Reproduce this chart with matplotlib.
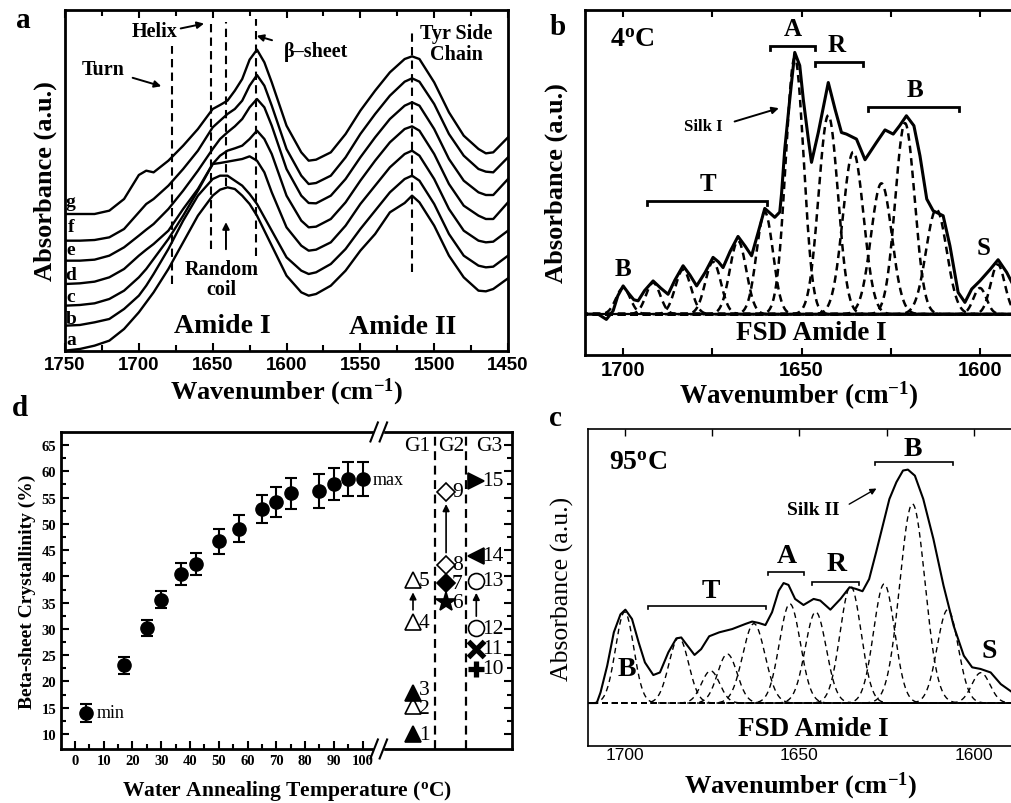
import numpy as np
import matplotlib.pyplot as plt
from matplotlib.patches import Rectangle

plt.rcParams['font.family'] = ['Liberation Serif', 'DejaVu Serif']
plt.rcParams['mathtext.fontset'] = 'custom'
plt.rcParams['mathtext.rm'] = 'Liberation Serif'
plt.rcParams['mathtext.bf'] = 'Liberation Serif:bold'
plt.rcParams['mathtext.it'] = 'Liberation Serif:italic'

# ---------------- panel a : FTIR spectra (offset traces, a.u.) ----------------
WN_A = [1750, 1740, 1730, 1720, 1710, 1700, 1695, 1690, 1680, 1670, 1660, 1650, 1645,
        1640, 1635, 1630, 1625, 1620, 1615, 1610, 1600, 1590, 1585, 1580, 1570, 1560,
        1550, 1540, 1530, 1520, 1515, 1510, 1500, 1490, 1480, 1470, 1465, 1460, 1450]
TRACE_g = [411, 411, 411, 421, 456, 528, 541, 536, 571, 616, 666, 726, 738, 751, 781, 816,
           874, 904, 866, 806, 676, 596, 571, 574, 596, 651, 721, 781, 836, 876, 884, 876,
           806, 716, 646, 606, 593, 596, 641]
TRACE_f = [331, 331, 333, 341, 366, 416, 441, 456, 496, 546, 601, 671, 691, 711, 726, 751,
           796, 828, 796, 736, 606, 526, 501, 504, 526, 581, 651, 711, 766, 808, 818, 808,
           741, 651, 586, 546, 538, 536, 581]
TRACE_e = [271, 271, 274, 286, 311, 346, 364, 381, 426, 481, 541, 606, 636, 656, 674, 696,
           731, 756, 731, 676, 546, 466, 444, 443, 466, 516, 581, 641, 696, 736, 746, 736,
           666, 576, 511, 476, 468, 468, 516]
TRACE_d = [201, 203, 208, 221, 246, 286, 304, 321, 361, 426, 486, 561, 586, 601, 608, 616,
           636, 661, 636, 591, 466, 391, 371, 373, 396, 446, 511, 571, 626, 666, 674, 661,
           591, 501, 436, 406, 396, 396, 446]
TRACE_c = [136, 138, 143, 156, 181, 221, 246, 276, 336, 406, 481, 561, 564, 568, 572, 576,
           584, 571, 536, 476, 371, 316, 301, 304, 326, 376, 441, 496, 551, 591, 601, 586,
           516, 426, 361, 331, 326, 328, 361]
TRACE_b = [76, 78, 86, 96, 126, 166, 196, 231, 306, 391, 466, 516, 526, 526, 511, 496,
           471, 441, 401, 361, 281, 241, 231, 236, 261, 306, 366, 421, 476, 516, 526, 511,
           441, 351, 286, 256, 251, 253, 286]
TRACE_a = [1, 6, 16, 31, 66, 116, 146, 176, 246, 326, 406, 466, 484, 491, 486, 466,
           441, 406, 361, 316, 226, 176, 166, 171, 196, 241, 301, 351, 416, 444, 466, 446,
           376, 286, 221, 181, 179, 186, 218]
TRACE_NAMES = ['a', 'b', 'c', 'd', 'e', 'f', 'g']
TRACE_LABEL_Y = [27, 90, 156, 222, 297, 366, 441]
BAND_LINES = {'Turn': 1677.5, 'Helix': 1651, 'Random coil': 1641, 'beta': 1621, 'Tyr': 1515}

# ---------------- panel b : FSD amide I at 4 C ----------------
SOLID_B_WN = [1711, 1707, 1704.7, 1702.8, 1701.5, 1700, 1698.5, 1697, 1695.8, 1694, 1691.6,
              1689.5, 1687.4, 1685.5, 1683.2, 1681.3, 1679.4, 1677, 1674.8, 1673.3, 1672,
              1670, 1667.8, 1665.8, 1664, 1662, 1660.3, 1657.5, 1656.1, 1655.6, 1654.7,
              1653.3, 1651.9, 1650.5, 1649.5, 1648.1, 1647.2, 1645.3, 1642.5, 1640.6,
              1638.8, 1637.4, 1634.6, 1632.2, 1629, 1626.6, 1624.3, 1622.5, 1620.6, 1618.5,
              1616.8, 1614.9, 1613.1, 1610.3, 1608.4, 1606.1, 1604.2, 1602.3, 1600, 1597.2,
              1594.9, 1592.5, 1591]
SOLID_B_H = [0.0, 0.0, -0.02, 0.013, 0.07, 0.108, 0.08, 0.055, 0.051, 0.09, 0.127,
             0.10, 0.076, 0.13, 0.185, 0.15, 0.108, 0.16, 0.217, 0.20, 0.178,
             0.24, 0.297, 0.26, 0.223, 0.32, 0.404, 0.37, 0.39, 0.46, 0.63,
             0.82, 1.0, 0.95, 0.82, 0.67, 0.58, 0.694, 0.885, 0.783,
             0.694, 0.688, 0.669, 0.59, 0.656, 0.704, 0.688, 0.72, 0.758, 0.72,
             0.605, 0.44, 0.395, 0.376, 0.261, 0.083, 0.045, 0.096, 0.127, 0.17,
             0.208, 0.16, 0.12]
BANDS_B_CENTER = [1700, 1691.6, 1683.2, 1674.8, 1667.8, 1660.3, 1651.9, 1642.5, 1635.5,
                  1627.6, 1621, 1612.2, 1600, 1595]
BANDS_B_HEIGHT = [0.10, 0.12, 0.17, 0.20, 0.28, 0.39, 0.98, 0.76, 0.62, 0.50, 0.73, 0.40,
                  0.10, 0.19]
BANDS_B_SIGMA = [2.0, 2.0, 2.2, 2.2, 2.3, 2.3, 2.5, 2.7, 2.9, 2.9, 2.7, 2.9, 1.8, 2.0]

# ---------------- panel c : FSD amide I at 95 C ----------------
SOLID_C_WN = [1710.5, 1708, 1706.9, 1705, 1703.1, 1701.2, 1699.8, 1697.9, 1696, 1694.2,
              1691.8, 1689.9, 1687.5, 1685.2, 1683.8, 1682.4, 1680, 1678.1, 1675.8, 1672.9,
              1669.2, 1665.4, 1663.5, 1661.6, 1659.7, 1657.8, 1655.9, 1654.5, 1653.1,
              1651.2, 1648.8, 1645.9, 1644, 1641.1, 1638.2, 1635.6, 1633.8, 1631.9, 1630,
              1628, 1626.1, 1624.2, 1622.2, 1620.3, 1618.9, 1616.9, 1614.5, 1611.6, 1608.7,
              1605.8, 1602.9, 1600.5, 1598.1, 1595.2, 1592.3, 1589]
SOLID_C_H = [0.0, 0.0, 0.046, 0.16, 0.303, 0.38, 0.40, 0.36, 0.26, 0.174,
             0.12, 0.131, 0.217, 0.277, 0.281, 0.253, 0.206, 0.231, 0.286, 0.303,
             0.317, 0.339, 0.349, 0.343, 0.334, 0.389, 0.481, 0.514, 0.506,
             0.446, 0.42, 0.446, 0.439, 0.40, 0.446, 0.496, 0.489, 0.479, 0.531,
             0.646, 0.76, 0.874, 0.946, 0.996, 1.0, 0.974, 0.874, 0.703, 0.503,
             0.331, 0.203, 0.153, 0.146, 0.131, 0.081, 0.046]
BANDS_C_CENTER = [1700, 1684.5, 1675.4, 1670.6, 1663, 1652.7, 1645.3, 1635.3, 1625.7,
                  1617.6, 1607.5, 1598]
BANDS_C_HEIGHT = [0.39, 0.28, 0.138, 0.21, 0.34, 0.425, 0.39, 0.50, 0.51, 0.853, 0.40, 0.13]
BANDS_C_SIGMA = [2.6, 2.8, 2.6, 2.8, 3.2, 3.0, 3.0, 3.0, 3.0, 3.6, 3.0, 2.6]

# ---------------- panel d : crystallinity ----------------
TEMPS = [4, 17, 25, 30, 37, 42, 50, 57, 65, 70, 75, 85, 90, 95, 100]
CRYST = [14.0, 23.1, 30.2, 35.6, 40.5, 42.4, 46.7, 49.1, 52.8, 54.2, 55.8, 56.3, 57.6, 58.5, 58.5]
CRYST_ERR = [1.8, 1.6, 1.5, 1.7, 2.1, 2.1, 2.4, 2.5, 2.7, 2.8, 2.9, 3.2, 3.0, 3.2, 3.2]
SAMPLE_NO = list(range(1, 16))
SAMPLE_GROUP = ['G1', 'G1', 'G1', 'G1', 'G1', 'G2', 'G2', 'G2', 'G2',
                'G3', 'G3', 'G3', 'G3', 'G3', 'G3']
SAMPLE_CRYST = [10.0, 15.4, 17.9, 31.3, 39.3, 35.1, 38.7, 42.2, 56.1,
                22.4, 26.2, 30.1, 39.2, 43.9, 58.2]
SAMPLE_ARROWS = [(4, 5), (8, 9), (12, 13)]

# styles / positions
GROUP_X = {'G1': 117.5, 'G2': 129.0, 'G3': 139.5}
MARKER_STYLE = {1: ('^', True), 2: ('^', False), 3: ('^', True), 4: ('^', False),
                5: ('^', False), 6: ('*', True), 7: ('D', True), 8: ('D', False),
                9: ('D', False), 10: ('+', True), 11: ('x', True), 12: ('o', False),
                13: ('o', False), 14: ('<', True), 15: ('>', True)}
LABEL_NUDGE = {2: -0.5, 3: 0.5}

fig = plt.figure(figsize=(10.11, 8.04), dpi=100)
SANSB = dict(family=['Liberation Sans', 'DejaVu Sans'], weight='bold')


def bracket(ax, x1, x2, y, tick, lw):
    ax.plot([x1, x1, x2, x2], [y - tick, y, y, y - tick], color='k', lw=lw,
            solid_joinstyle='miter')


def band(x, c, h, s):
    return h * np.exp(-0.5 * ((x - c) / s) ** 2)


# ======== a ========
ax = fig.add_axes([0.0643, 0.5622, 0.4382, 0.4241])
traces = [TRACE_a, TRACE_b, TRACE_c, TRACE_d, TRACE_e, TRACE_f, TRACE_g]
for tr in traces:
    ax.plot(WN_A, tr, color='k', lw=1.7)
for name, ly in zip(TRACE_NAMES, TRACE_LABEL_Y):
    ax.text(1746, ly + 8, name, fontsize=14, fontweight='bold', ha='center', va='center')
dash = dict(color='k', lw=1.5, ls=(0, (4, 2.5)))
ax.plot([BAND_LINES['Turn']] * 2, [201, 916], **dash)
ax.plot([BAND_LINES['Helix']] * 2, [306, 987], **dash)
ax.plot([BAND_LINES['Random coil']] * 2, [495, 987], **dash)
ax.plot([BAND_LINES['beta']] * 2, [285, 996], **dash)
ax.plot([BAND_LINES['Tyr']] * 2, [237, 957], **dash)
arr = dict(arrowstyle='-|>', color='k', lw=1.4, mutation_scale=10)
ax.annotate('', xy=(1641, 395), xytext=(1641, 297), arrowprops=arr)
ax.text(1724.3, 846, 'Turn', fontsize=14.5, fontweight='bold', ha='center', va='center')
ax.annotate('', xy=(1683, 792), xytext=(1706, 822), arrowprops=arr)
ax.text(1689, 960, 'Helix', fontsize=14.5, fontweight='bold', ha='center', va='center')
ax.annotate('', xy=(1654, 984), xytext=(1673.5, 966), arrowprops=arr)
ax.text(1580, 900, 'β–sheet', fontsize=14.5, fontweight='bold', ha='center', va='center')
ax.annotate('', xy=(1622, 948), xytext=(1608, 930), arrowprops=arr)
ax.text(1484.8, 922, 'Tyr Side\nChain', fontsize=14.5, fontweight='bold', ha='center',
        va='center', linespacing=1.05)
ax.text(1643.8, 216, 'Random\ncoil', fontsize=14.5, fontweight='bold', ha='center',
        va='center', linespacing=1.05)
ax.text(1643.8, 75, 'Amide I', fontsize=20, fontweight='bold', ha='center', va='center')
ax.text(1521.3, 72, 'Amide II', fontsize=20, fontweight='bold', ha='center', va='center')
ax.set_xlim(1750, 1450)
ax.set_ylim(0, 1023)
ax.set_xticks(range(1750, 1449, -50))
ax.set_xticks(range(1725, 1450, -50), minor=True)
ax.set_yticks([])
ax.tick_params(axis='x', which='both', direction='in', top=True, width=1.5)
ax.tick_params(axis='x', which='major', length=6)
ax.tick_params(axis='x', which='minor', length=4)
for lab in ax.get_xticklabels():
    lab.set(**SANSB, fontsize=13.5)
ax.set_xlabel(r'Wavenumber (cm$^{\mathbf{-1}}$)', fontsize=19, fontweight='bold', labelpad=2)
ax.set_ylabel('Absorbance (a.u.)', fontsize=19, fontweight='bold', labelpad=6)
for s in ax.spines.values():
    s.set_linewidth(2)

# ======== b ========
bx = fig.add_axes([0.5786, 0.5572, 0.4224, 0.4291])
xg = np.linspace(1712, 1589, 700)
for c, h, s in zip(BANDS_B_CENTER, BANDS_B_HEIGHT, BANDS_B_SIGMA):
    bx.plot(xg, band(xg, c, h, s), color='k', lw=1.8, ls=(0, (3, 2)))
bx.axhline(0, color='k', lw=1.6)
bx.plot(SOLID_B_WN, SOLID_B_H, color='k', lw=2.2)
bx.text(1697.5, 1.05, r'4$^{\mathbf{o}}$C', fontsize=20, fontweight='bold', ha='center', va='center')
bx.text(1652.5, 1.09, 'A', fontsize=18, fontweight='bold', ha='center', va='center')
bracket(bx, 1658.9, 1646.3, 1.025, 0.015, 2)
bx.text(1640.2, 1.03, 'R', fontsize=18, fontweight='bold', ha='center', va='center')
bracket(bx, 1646.3, 1632.7, 0.964, 0.015, 2)
bx.text(1618.2, 0.86, 'B', fontsize=18, fontweight='bold', ha='center', va='center')
bracket(bx, 1631.3, 1605.8, 0.79, 0.015, 2)
bx.text(1676.2, 0.50, 'T', fontsize=18, fontweight='bold', ha='center', va='center')
bracket(bx, 1693.4, 1659.8, 0.433, 0.015, 2)
bx.text(1700, 0.175, 'B', fontsize=18, fontweight='bold', ha='center', va='center')
bx.text(1599, 0.255, 'S', fontsize=18, fontweight='bold', ha='center', va='center')
bx.text(1677.5, 0.72, 'Silk I', fontsize=12, fontweight='bold', ha='center', va='center')
bx.annotate('', xy=(1655.6, 0.79), xytext=(1669.5, 0.733), arrowprops=arr)
bx.text(1647.2, -0.07, 'FSD Amide I', fontsize=19.5, fontweight='bold', ha='center', va='center')
bx.set_xlim(1710.7, 1591.0)
bx.set_ylim(-0.156, 1.162)
bx.set_xticks([1700, 1650, 1600])
bx.set_xticks([1675, 1625], minor=True)
bx.set_yticks([])
bx.tick_params(axis='x', which='both', direction='in', top=True, width=1.5, length=5)
for lab in bx.get_xticklabels():
    lab.set(**SANSB, fontsize=14.5)
bx.set_xlabel(r'Wavenumber (cm$^{\mathbf{-1}}$)', fontsize=19.5, fontweight='bold', labelpad=0)
bx.set_ylabel('Absorbance (a.u.)', fontsize=19, fontweight='bold', labelpad=12)
for s in bx.spines.values():
    s.set_linewidth(2)

# ======== c ========
cx = fig.add_axes([0.5816, 0.0709, 0.4204, 0.3943])
for c, h, s in zip(BANDS_C_CENTER, BANDS_C_HEIGHT, BANDS_C_SIGMA):
    cx.plot(xg, band(xg, c, h, s), color='k', lw=1.0, ls=(0, (4, 3)))
cx.plot(SOLID_C_WN, SOLID_C_H, color='k', lw=1.5)
cx.text(1696, 1.03, r'95$^{\mathbf{o}}$C', fontsize=20, fontweight='bold', ha='center', va='center')
cx.text(1617.4, 1.09, 'B', fontsize=20, fontweight='bold', ha='center', va='center')
bracket(cx, 1628.3, 1606.1, 1.034, 0.015, 1.2)
cx.text(1653.6, 0.631, 'A', fontsize=20, fontweight='bold', ha='center', va='center')
bracket(cx, 1659, 1648.6, 0.563, 0.015, 1.2)
cx.text(1639.4, 0.596, 'R', fontsize=20, fontweight='bold', ha='center', va='center')
bracket(cx, 1646.5, 1632.8, 0.52, 0.015, 1.2)
cx.text(1675.3, 0.48, 'T', fontsize=20, fontweight='bold', ha='center', va='center')
bracket(cx, 1693.2, 1659.5, 0.417, 0.015, 1.2)
cx.text(1699.3, 0.146, 'B', fontsize=20, fontweight='bold', ha='center', va='center')
cx.text(1595.6, 0.224, 'S', fontsize=20, fontweight='bold', ha='center', va='center')
cx.text(1646, 0.83, 'Silk II', fontsize=14, fontweight='bold', ha='center', va='center')
cx.annotate('', xy=(1627.2, 0.925), xytext=(1636.4, 0.846),
            arrowprops=dict(arrowstyle='-|>', color='k', lw=1.0, mutation_scale=9))
cx.text(1646, -0.111, 'FSD Amide I', fontsize=19.5, fontweight='bold', ha='center', va='center')
cx.set_xlim(1710.5, 1588.8)
cx.set_ylim(-0.184, 1.174)
cx.set_xticks([1700, 1650, 1600])
cx.set_xticks([1675, 1625], minor=True)
cx.set_yticks([])
cx.tick_params(axis='x', which='both', direction='in', top=True, bottom=False, width=1.0,
               length=5, pad=1)
for lab in cx.get_xticklabels():
    lab.set(family=['Liberation Sans', 'DejaVu Sans'], fontsize=12.5)
cx.set_xlabel(r'Wavenumber (cm$^{\mathbf{-1}}$)', fontsize=19, fontweight='bold', labelpad=5)
cx.set_ylabel('Absorbance (a.u.)', fontsize=18.5, labelpad=10)
for s in cx.spines.values():
    s.set_linewidth(1.2)

# ======== d ========
dx = fig.add_axes([0.0603, 0.0672, 0.4461, 0.3943])
dx.errorbar(TEMPS, CRYST, yerr=CRYST_ERR, fmt='o', color='k', ms=9.5, capsize=4,
            elinewidth=1.5, capthick=1.5)
dx.text(TEMPS[0] + 3.5, CRYST[0], 'min', fontsize=13, ha='left', va='center')
dx.text(TEMPS[-1] + 3.5, CRYST[-1], 'max', fontsize=13, ha='left', va='center')
for no, grp, val in zip(SAMPLE_NO, SAMPLE_GROUP, SAMPLE_CRYST):
    mk, filled = MARKER_STYLE[no]
    x = GROUP_X[grp]
    ms = 15 if mk == '*' else (9.5 if mk == 'D' else 11.5)
    if mk in ('+', 'x'):
        dx.plot(x, val, marker=mk, color='k', ms=11, mew=3.8, ls='none')
    else:
        dx.plot(x, val, marker=mk, ls='none', ms=ms, mec='k', mew=1.2,
                mfc='k' if filled else 'white')
    dx.text(x + 2.0, val + LABEL_NUDGE.get(no, 0), str(no), fontsize=15.5,
            ha='left', va='center')
for lo, hi in SAMPLE_ARROWS:
    x = GROUP_X[SAMPLE_GROUP[lo - 1]]
    dx.annotate('', xy=(x, SAMPLE_CRYST[hi - 1] - 1.8), xytext=(x, SAMPLE_CRYST[lo - 1] + 1.8),
                arrowprops=dict(arrowstyle='-|>', color='k', lw=1.2, mutation_scale=10))
dx.axvline(125, color='k', lw=1.6, ls=(0, (4, 2.5)))
dx.axvline(136, color='k', lw=1.6, ls=(0, (4, 2.5)))
for g, gx in (('G1', 119), ('G2', 130.8), ('G3', 144)):
    dx.text(gx, 65.0, g, fontsize=15.5, ha='center', va='center')
dx.set_xlim(-4.86, 151.9)
dx.set_ylim(7.15, 67.5)
dx.set_xticks(range(0, 101, 10))
dx.set_xticks(range(5, 100, 10), minor=True)
dx.set_yticks(range(10, 66, 5))
dx.set_yticks(np.arange(12.5, 66, 5), minor=True)
dx.tick_params(which='both', direction='in', right=True, width=1.5)
dx.tick_params(which='major', length=6)
dx.tick_params(which='minor', length=3.5)
for lab in dx.get_xticklabels() + dx.get_yticklabels():
    lab.set(fontweight='bold', fontsize=10.5)
dx.set_xlabel(r'Water Annealing Temperature ($^{\mathbf{o}}$C)', fontsize=15.5,
              fontweight='bold', labelpad=8)
dx.set_ylabel('Beta-sheet Crystallinity (%)', fontsize=14, fontweight='bold', labelpad=4)
for s in dx.spines.values():
    s.set_linewidth(2)
trans = dx.get_xaxis_transform()
for yb in (0, 1):
    dx.add_patch(Rectangle((104.0, yb - 0.015), 3.2, 0.03, transform=trans,
                           color='white', zorder=5, clip_on=False))
    for xc in (104.0, 107.2):
        dx.plot([xc - 1.3, xc + 1.3], [yb - 0.03, yb + 0.03], transform=trans,
                color='k', lw=1.5, clip_on=False, zorder=6)

for lab, (fx, fy) in {'a': (0.023, 0.974), 'b': (0.552, 0.966),
                      'd': (0.020, 0.492), 'c': (0.549, 0.480)}.items():
    fig.text(fx, fy, lab, fontsize=21, fontweight='bold', ha='center', va='center')

fig.savefig('out.png', dpi=100)
